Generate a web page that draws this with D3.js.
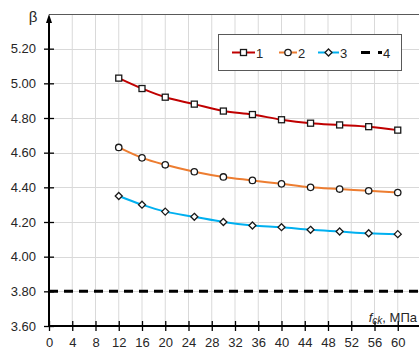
<!DOCTYPE html>
<html>
<head>
<meta charset="utf-8">
<script src="https://cdn.jsdelivr.net/npm/d3@7"></script>
<style>
  body { margin: 0; background: #fff; }
  svg { display: block; font-family: "Liberation Sans", Arial, sans-serif; }
</style>
</head>
<body>
<div id="wrapper"></div>
<script>
// fck values (MPa)
const fck = [12, 16, 20, 25, 30, 35, 40, 45, 50, 55, 60];
// beta values
const beta1 = [5.03, 4.97, 4.92, 4.88, 4.84, 4.82, 4.79, 4.77, 4.76, 4.75, 4.73];
const beta2 = [4.63, 4.57, 4.53, 4.49, 4.46, 4.44, 4.42, 4.40, 4.39, 4.38, 4.37];
const beta3 = [4.35, 4.30, 4.26, 4.23, 4.20, 4.18, 4.17, 4.155, 4.145, 4.135, 4.13];
const beta4 = 3.80;
const seriesNames = ["1", "2", "3", "4"];
const xTicks = [0, 4, 8, 12, 16, 20, 24, 28, 32, 36, 40, 44, 48, 52, 56, 60];
const yTicks = [3.6, 3.8, 4.0, 4.2, 4.4, 4.6, 4.8, 5.0, 5.2];

const dimensions = {
  width: 419,
  height: 349,
  margin: {top: 14, right: -2, bottom: 23, left: 49},
};
dimensions.boundedWidth = dimensions.width - dimensions.margin.left - dimensions.margin.right;
dimensions.boundedHeight = dimensions.height - dimensions.margin.top - dimensions.margin.bottom;

const wrapper = d3.select("#wrapper")
  .append("svg")
  .attr("width", dimensions.width)
  .attr("height", dimensions.height);

const bounds = wrapper.append("g")
  .attr("transform", `translate(${dimensions.margin.left},${dimensions.margin.top})`);

const xScale = d3.scaleLinear().domain([0, 64]).range([0, dimensions.boundedWidth]);
const yScale = d3.scaleLinear().domain([3.6, 5.4]).range([dimensions.boundedHeight, 0]);

// grid
const gridX = d3.range(4, 64, 4);
bounds.append("g").selectAll("line").data(gridX).join("line")
  .attr("x1", d => xScale(d)).attr("x2", d => xScale(d))
  .attr("y1", 0).attr("y2", dimensions.boundedHeight)
  .attr("stroke", "#d9d9d9").attr("stroke-width", 1);
bounds.append("g").selectAll("line").data(yTicks.slice(1)).join("line")
  .attr("x1", 0).attr("x2", dimensions.boundedWidth)
  .attr("y1", d => Math.round(yScale(d)) + 0.5).attr("y2", d => Math.round(yScale(d)) + 0.5)
  .attr("stroke", "#d9d9d9").attr("stroke-width", 1);
// top border
bounds.append("line")
  .attr("x1", 0).attr("x2", dimensions.boundedWidth)
  .attr("y1", yScale(5.4) + 0.5).attr("y2", yScale(5.4) + 0.5)
  .attr("stroke", "#595959").attr("stroke-width", 1.2);

// threshold line (series 4)
bounds.append("line")
  .attr("x1", xScale(0)).attr("x2", dimensions.boundedWidth)
  .attr("y1", yScale(beta4)).attr("y2", yScale(beta4))
  .attr("stroke", "#000").attr("stroke-width", 3)
  .attr("stroke-dasharray", "9,6");

const lineGenerator = d3.line()
  .x(d => xScale(d[0]))
  .y(d => yScale(d[1]))
  .curve(d3.curveCatmullRom);

const series = [
  {values: beta1, color: "#c00000", marker: "square"},
  {values: beta2, color: "#ed7d31", marker: "circle"},
  {values: beta3, color: "#00b0f0", marker: "diamond"},
];

function drawMarker(g, type, x, y) {
  if (type === "square") {
    g.append("rect").attr("x", x - 3).attr("y", y - 3).attr("width", 6).attr("height", 6)
      .attr("fill", "#fff").attr("stroke", "#1a1a1a").attr("stroke-width", 1.3);
  } else if (type === "circle") {
    g.append("circle").attr("cx", x).attr("cy", y).attr("r", 3.2)
      .attr("fill", "#fff").attr("stroke", "#1a1a1a").attr("stroke-width", 1.3);
  } else {
    g.append("path")
      .attr("d", `M${x},${y - 3.5}L${x + 3.5},${y}L${x},${y + 3.5}L${x - 3.5},${y}Z`)
      .attr("fill", "#fff").attr("stroke", "#1a1a1a").attr("stroke-width", 1.3);
  }
}

series.forEach(s => {
  const pts = fck.map((x, i) => [x, s.values[i]]);
  bounds.append("path")
    .datum(pts)
    .attr("d", lineGenerator)
    .attr("fill", "none")
    .attr("stroke", s.color)
    .attr("stroke-width", 2);
  const mg = bounds.append("g");
  pts.forEach(p => drawMarker(mg, s.marker, xScale(p[0]), yScale(p[1])));
});

// axes
const xAxisGenerator = d3.axisBottom(xScale).tickValues(xTicks).tickSize(0).tickFormat(d3.format("d"));
const xAxis = bounds.append("g")
  .attr("transform", `translate(0,${dimensions.boundedHeight})`)
  .call(xAxisGenerator);
xAxis.select(".domain").remove();
xAxis.selectAll(".tick text").attr("y", 12).attr("font-size", 13).attr("fill", "#262626")
  .attr("font-family", "Liberation Sans, Arial, sans-serif");
xAxis.selectAll(".tick").append("line")
  .attr("y1", -5).attr("y2", 5).attr("stroke", "#000").attr("stroke-width", 1.3);
xAxis.append("line")
  .attr("x1", 0).attr("x2", dimensions.boundedWidth)
  .attr("stroke", "#000").attr("stroke-width", 2);

const yAxisGenerator = d3.axisLeft(yScale).tickValues(yTicks).tickSize(0).tickFormat(d3.format(".2f"));
const yAxis = bounds.append("g").call(yAxisGenerator);
yAxis.select(".domain").remove();
yAxis.selectAll(".tick text").attr("x", -13).attr("font-size", 13).attr("fill", "#262626")
  .attr("font-family", "Liberation Sans, Arial, sans-serif");
yAxis.selectAll(".tick").append("line")
  .attr("x1", -5).attr("x2", 5).attr("stroke", "#000").attr("stroke-width", 1.3);
yAxis.append("line")
  .attr("y1", dimensions.boundedHeight).attr("y2", yScale(5.4) + 6)
  .attr("stroke", "#000").attr("stroke-width", 2);
yAxis.append("path")
  .attr("d", `M0,${yScale(5.4)}L3,${yScale(5.4) + 9}L-3,${yScale(5.4) + 9}Z`)
  .attr("fill", "#000");

// axis titles
wrapper.append("text")
  .attr("x", 33).attr("y", 22)
  .attr("text-anchor", "middle")
  .attr("font-size", 15).attr("fill", "#262626")
  .text("β");

const xTitle = wrapper.append("text")
  .attr("x", 417).attr("y", 322)
  .attr("text-anchor", "end")
  .attr("font-size", 13).attr("fill", "#262626");
xTitle.append("tspan").attr("font-style", "italic").text("f");
xTitle.append("tspan").attr("font-style", "italic").attr("font-size", 10).attr("dy", 2).text("ck");
xTitle.append("tspan").attr("dy", -2).text(", МПа");

// legend
const legend = wrapper.append("g");
legend.append("rect")
  .attr("x", 218.5).attr("y", 34.5).attr("width", 183).attr("height", 36)
  .attr("fill", "#fff").attr("stroke", "#595959").attr("stroke-width", 1);
const legendY = 52.5;
const legendItems = [
  {x1: 232, x2: 255, tx: 256},
  {x1: 279, x2: 297, tx: 298},
  {x1: 318, x2: 339, tx: 340},
];
legendItems.forEach((it, i) => {
  legend.append("line")
    .attr("x1", it.x1).attr("x2", it.x2).attr("y1", legendY).attr("y2", legendY)
    .attr("stroke", series[i].color).attr("stroke-width", 2);
  drawMarker(legend, series[i].marker, (it.x1 + it.x2) / 2, legendY);
  legend.append("text")
    .attr("x", it.tx).attr("y", legendY + 5)
    .attr("font-size", 13).attr("fill", "#262626")
    .text(seriesNames[i]);
});
legend.append("line")
  .attr("x1", 361).attr("x2", 382).attr("y1", legendY).attr("y2", legendY)
  .attr("stroke", "#000").attr("stroke-width", 3)
  .attr("stroke-dasharray", "9,8");
legend.append("text")
  .attr("x", 383).attr("y", legendY + 5)
  .attr("font-size", 13).attr("fill", "#262626")
  .text(seriesNames[3]);
</script>
</body>
</html>
